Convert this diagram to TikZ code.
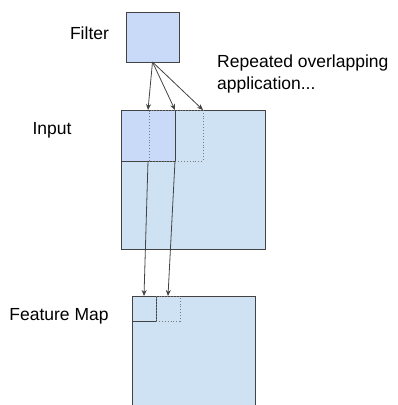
\documentclass[tikz,border=0pt]{standalone}
\usepackage{fontspec}
\setmainfont{Liberation Sans}
\definecolor{conv_filter}{HTML}{C9DAF8}
\definecolor{conv_map}{HTML}{CFE2F3}
\definecolor{conv_line}{HTML}{434343}
\usetikzlibrary{arrows.meta, positioning}

\begin{document}
\begin{tikzpicture}[x=1pt, y=-1pt, font=\fontsize{17.5}{22}\selectfont,
    box/.style={draw=conv_line, line width=0.9pt, inner sep=0pt, outer sep=0pt},
    winbox/.style={draw=conv_line!70, dotted, line width=0.9pt, inner sep=0pt, outer sep=0pt},
    conn/.style={draw=conv_line, line width=0.8pt, -{Stealth[length=6pt, width=5pt]}}]
  \useasboundingbox (0,0) rectangle (398,405);
  \clip (0,0) rectangle (398,405);
  % boxes
  \node[box, fill=conv_filter, minimum width=53pt, minimum height=50pt] (filter) at (152.5, 37) {};
  \node[box, fill=conv_map, minimum width=144pt, minimum height=139pt] (input) at (193, 179.5) {};
  \node[box, fill=conv_filter, minimum width=54pt, minimum height=51pt] (inwin) at (148, 135.5) {};
  \node[winbox, minimum width=54pt, minimum height=51pt] (inwinb) at (176, 135.5) {};
  \node[box, fill=conv_map, minimum width=123pt, minimum height=123pt] (fmap) at (193.5, 357.5) {};
  \node[box, minimum width=24pt, minimum height=25pt] (fmwin) at (144, 308.5) {};
  \node[winbox, minimum width=24pt, minimum height=25pt] (fmwinb) at (168, 308.5) {};
  % labels
  \node (filterlbl) at (89.5, 33) {Filter};
  \node (inputlbl) at (52, 130) {Input};
  \node (fmaplbl) at (59, 316) {Feature Map};
  \node[anchor=west, align=left, inner sep=0pt] (repeatlbl) at (217, 74) {Repeated overlapping\\application...};
  % arrows
  \draw[conn] (filter.south) -- (inwin.north);
  \draw[conn] (filter.south) -- (inwin.north east);
  \draw[conn] (filter.south) -- (inwinb.north east);
  \draw[conn] (inwin.south) -- (fmwin.north);
  \draw[conn] (inwin.south east) -- (fmwinb.north);
\end{tikzpicture}
\end{document}
